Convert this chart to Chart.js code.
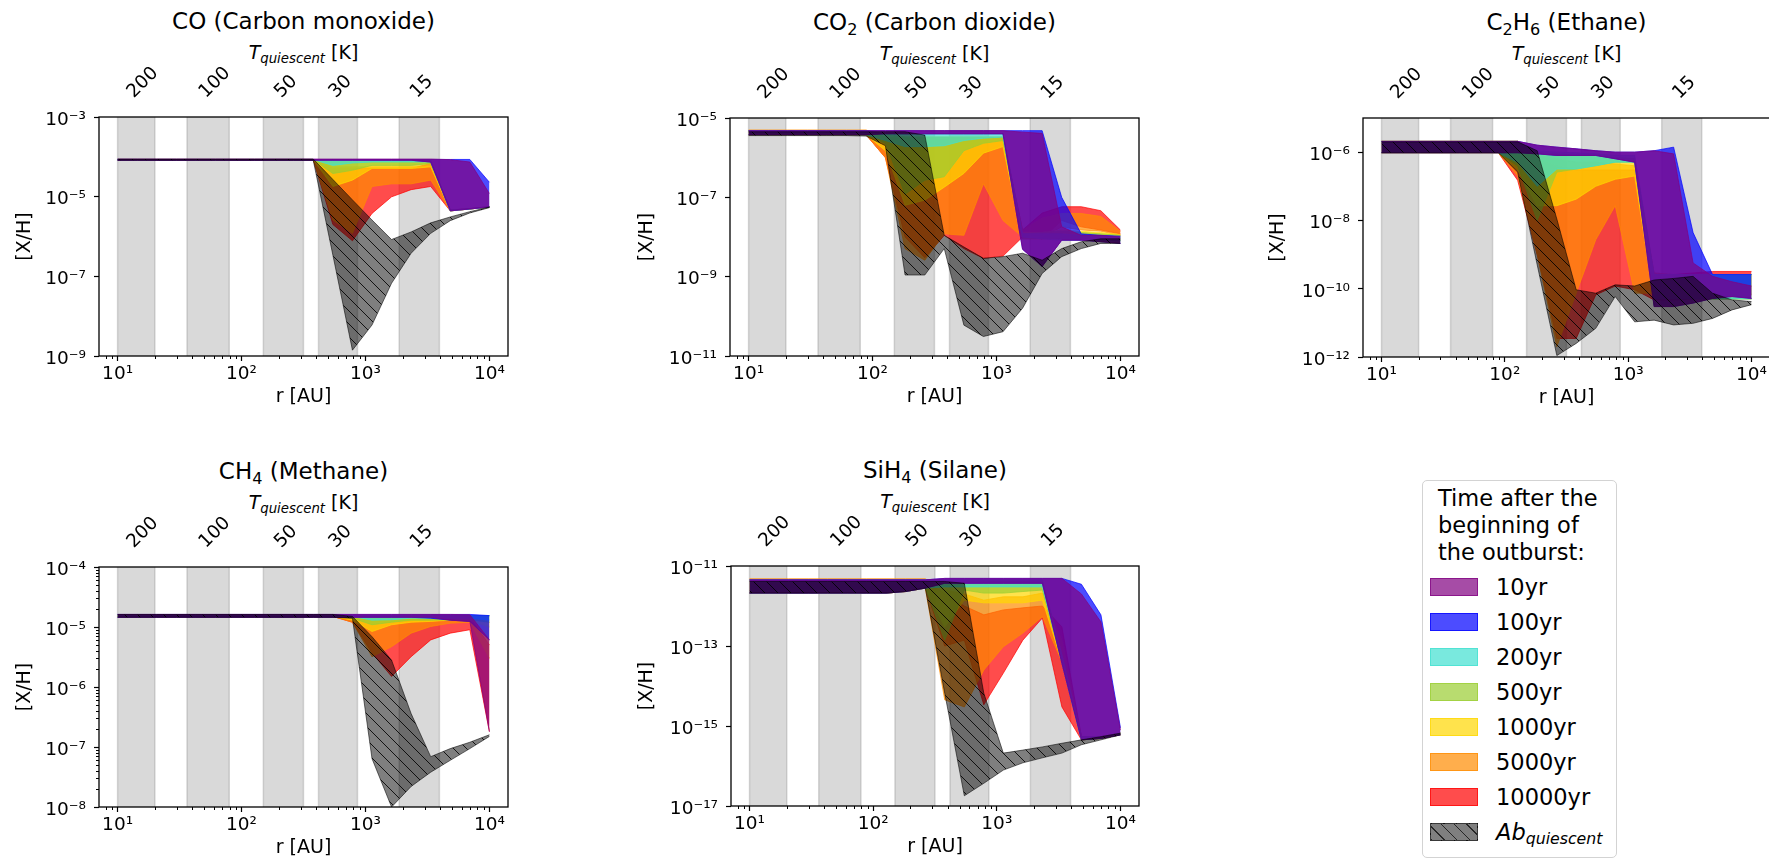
<!DOCTYPE html>
<html>
<head>
<meta charset="utf-8">
<script src="https://cdn.jsdelivr.net/npm/chart.js@4.4.0/dist/chart.umd.min.js"></script>
<style>
  html, body { margin: 0; padding: 0; background: #fff; width: 1769px; height: 868px; overflow: hidden; }
  body { position: relative; font-family: "DejaVu Sans", sans-serif; color: #000; }
  canvas { position: absolute; }
  .ttl { position: absolute; text-align: center; font-size: 23px; line-height: 28px; white-space: nowrap; }
  .tq { position: absolute; text-align: center; font-size: 19px; line-height: 24px; white-space: nowrap; }
  sub { font-size: 0.7em; vertical-align: -0.28em; line-height: 0; }
  #legend { position: absolute; left: 1422px; top: 480px; width: 195px; height: 378px; box-sizing: border-box;
            border: 1px solid #d3d3d3; border-radius: 5px; font-size: 22.5px; }
  #legend .head { position: absolute; left: 15px; top: 4px; line-height: 27px; white-space: nowrap; }
  #legend .row { position: absolute; left: 0; width: 190px; height: 27px; }
  #legend .sw { position: absolute; left: 7px; top: 4px; width: 46px; height: 16px; }
  #legend .lab { position: absolute; left: 73px; top: 0; line-height: 27px; white-space: nowrap; }
</style>
</head>
<body>
<div id="legend"></div>
<script>
// radial grid of the models [AU]
const radius = [10, 14.4, 20.7, 29.8, 42.8, 61.6, 88.6, 127, 183, 264, 379, 546, 785, 1129, 1624, 2336, 3360, 4833, 6952, 10000];

// temperature bands and top axis
const tempBands = [[10, 20], [36.3, 79.6], [150, 316], [418, 862], [1870, 3950]];
const topTickR = [14.1, 53.8, 218, 600, 2720];
const topTickLabels = ['200', '100', '50', '30', '15'];

const xMajorTicks = [10, 100, 1000, 10000];
const xMinorTicks = [8, 9, 20, 30, 40, 50, 60, 70, 80, 90, 200, 300, 400, 500, 600, 700, 800, 900,
                     2000, 3000, 4000, 5000, 6000, 7000, 8000, 9000];

const seriesNames = ['quiescent', '10yr', '100yr', '200yr', '500yr', '1000yr', '5000yr', '10000yr'];

// ---- CO
const co_q_hi = [8.8e-5,8.8e-5,8.8e-5,8.8e-5,8.8e-5,8.8e-5,8.8e-5,8.8e-5,8.8e-5,8.8e-5,8.8e-5,2.7e-5,8.3e-6,2.6e-6,8.4e-7,1.3e-6,2.2e-6,3.1e-6,4.2e-6,5.5e-6];
const co_q_lo = [8.2e-5,8.2e-5,8.2e-5,8.2e-5,8.2e-5,8.2e-5,8.2e-5,8.2e-5,8.2e-5,8.2e-5,8.2e-5,3.4e-7,1.4e-9,6e-9,6.7e-8,3.8e-7,1.2e-6,2.5e-6,3.9e-6,5.3e-6];
const co_10_hi = [8.8e-5,8.8e-5,8.8e-5,8.8e-5,8.8e-5,8.8e-5,8.8e-5,8.8e-5,8.8e-5,8.8e-5,8.8e-5,8.8e-5,8.8e-5,8.8e-5,8.8e-5,8.8e-5,8.8e-5,8.5e-5,7.4e-5,1.2e-5];
const co_10_lo = [8.2e-5,8.2e-5,8.2e-5,8.2e-5,8.2e-5,8.2e-5,8.2e-5,8.2e-5,8.2e-5,8.2e-5,8.2e-5,8.2e-5,8.2e-5,8.2e-5,8.2e-5,8.2e-5,7.4e-5,4.4e-6,4.9e-6,5.5e-6];
const co_100_hi = [8.6e-5,8.6e-5,8.6e-5,8.6e-5,8.6e-5,8.6e-5,8.6e-5,8.6e-5,8.6e-5,8.6e-5,8.6e-5,8.6e-5,8.6e-5,8.6e-5,8.6e-5,8.6e-5,8.6e-5,8.6e-5,8.6e-5,2.3e-5];
const co_100_lo = [8.2e-5,8.2e-5,8.2e-5,8.2e-5,8.2e-5,8.2e-5,8.2e-5,8.2e-5,8.2e-5,8.2e-5,8.2e-5,8.2e-5,8.2e-5,8.2e-5,8.2e-5,8.2e-5,7.4e-5,4.4e-6,4.9e-6,5.5e-6];
const co_200_hi = [8.5e-5,8.5e-5,8.5e-5,8.5e-5,8.5e-5,8.5e-5,8.5e-5,8.5e-5,8.5e-5,8.5e-5,8.5e-5,8.5e-5,8.5e-5,8.5e-5,8.5e-5,8.5e-5,8.5e-5,4.6e-6,5e-6,5.6e-6];
const co_200_lo = [8.5e-5,8.5e-5,8.5e-5,8.5e-5,8.5e-5,8.5e-5,8.5e-5,8.5e-5,8.5e-5,8.5e-5,8.5e-5,6.1e-5,7e-5,7.4e-5,7.4e-5,7.4e-5,7.4e-5,4.4e-6,4.9e-6,5.5e-6];
const co_500_hi = [8.5e-5,8.5e-5,8.5e-5,8.5e-5,8.5e-5,8.5e-5,8.5e-5,8.5e-5,8.5e-5,8.5e-5,8.5e-5,8e-5,8e-5,8e-5,8e-5,8e-5,8e-5,4.6e-6,5e-6,5.6e-6];
const co_500_lo = [8.5e-5,8.5e-5,8.5e-5,8.5e-5,8.5e-5,8.5e-5,8.5e-5,8.5e-5,8.5e-5,8.5e-5,8.5e-5,3.8e-5,4.6e-5,6.1e-5,6.1e-5,6.1e-5,6.8e-5,4.4e-6,4.9e-6,5.5e-6];
const co_1000_hi = [8.5e-5,8.5e-5,8.5e-5,8.5e-5,8.5e-5,8.5e-5,8.5e-5,8.5e-5,8.5e-5,8.5e-5,8.5e-5,7.4e-5,7.4e-5,7.4e-5,7.4e-5,7.4e-5,7.4e-5,4.6e-6,5e-6,5.6e-6];
const co_1000_lo = [8.5e-5,8.5e-5,8.5e-5,8.5e-5,8.5e-5,8.5e-5,8.5e-5,8.5e-5,8.5e-5,8.5e-5,8.5e-5,1.8e-5,2.6e-5,5.1e-5,5.1e-5,5.1e-5,5.6e-5,4.4e-6,4.9e-6,5.5e-6];
const co_5000_hi = [8.5e-5,8.5e-5,8.5e-5,8.5e-5,8.5e-5,8.5e-5,8.5e-5,8.5e-5,8.5e-5,8.5e-5,8.5e-5,5.6e-5,5.6e-5,5.6e-5,5.6e-5,5.6e-5,5.6e-5,4.6e-6,5e-6,5.6e-6];
const co_5000_lo = [8.5e-5,8.5e-5,8.5e-5,8.5e-5,8.5e-5,8.5e-5,8.5e-5,8.5e-5,8.5e-5,8.5e-5,8.5e-5,2.6e-6,1.2e-6,1.8e-5,2.1e-5,2.1e-5,2.6e-5,4.4e-6,4.9e-6,5.5e-6];
const co_10000_hi = [8.5e-5,8.5e-5,8.5e-5,8.5e-5,8.5e-5,8.5e-5,8.5e-5,8.5e-5,8.5e-5,8.5e-5,8.5e-5,5.1e-5,5.1e-5,5.1e-5,5.1e-5,5.1e-5,6.8e-5,4.6e-6,5e-6,5.6e-6];
const co_10000_lo = [8.5e-5,8.5e-5,8.5e-5,8.5e-5,8.5e-5,8.5e-5,8.5e-5,8.5e-5,8.5e-5,8.5e-5,8.5e-5,2e-6,7.8e-7,3.8e-6,9.9e-6,1.5e-5,1.8e-5,4.4e-6,4.9e-6,5.5e-6];

// ---- CO2
const co2_q_hi = [4.5e-6,4.5e-6,4.5e-6,4.5e-6,4.5e-6,4.5e-6,4.5e-6,4.5e-6,4.5e-6,3.7e-6,1.1e-8,5.6e-9,2.9e-9,3.2e-9,3.9e-9,2.6e-9,5.1e-9,7.6e-9,9e-9,9e-9];
const co2_q_lo = [3.6e-6,3.6e-6,3.6e-6,3.6e-6,3.6e-6,3.6e-6,3.5e-6,2e-6,1.1e-9,1.1e-9,5.1e-9,6e-11,3.1e-11,4.1e-11,1.6e-10,1.2e-9,3.2e-9,5.1e-9,6.9e-9,6.9e-9];
const co2_10_hi = [4.8e-6,4.8e-6,4.8e-6,4.8e-6,4.8e-6,4.8e-6,4.8e-6,4.8e-6,4.8e-6,4.8e-6,4.8e-6,4.8e-6,4.8e-6,4.8e-6,4.4e-6,4.1e-6,1.8e-8,1.1e-8,1.1e-8,1e-8];
const co2_10_lo = [3.8e-6,3.8e-6,3.8e-6,3.8e-6,3.8e-6,3.8e-6,3.8e-6,4e-6,4e-6,4e-6,4e-6,4e-6,4e-6,4e-6,4.9e-9,1.8e-9,8.3e-9,8.3e-9,7.6e-9,6.9e-9];
const co2_100_hi = [4.8e-6,4.8e-6,4.8e-6,4.8e-6,4.8e-6,4.8e-6,4.8e-6,4.8e-6,4.8e-6,4.8e-6,4.8e-6,4.8e-6,4.8e-6,4.8e-6,4.8e-6,4.8e-6,1e-7,1.2e-8,1.1e-8,1.05e-8];
const co2_100_lo = [3.8e-6,3.8e-6,3.8e-6,3.8e-6,3.8e-6,3.8e-6,3.8e-6,4e-6,4e-6,4e-6,4e-6,4e-6,4e-6,4e-6,4.9e-9,1.8e-9,8.3e-9,8.3e-9,7.6e-9,6.9e-9];
const co2_200_hi = [4.8e-6,4.8e-6,4.8e-6,4.8e-6,4.8e-6,4.8e-6,4.8e-6,4e-6,4e-6,4e-6,4e-6,4e-6,4e-6,4e-6,1.2e-8,1.2e-8,1.2e-8,1.1e-8,1.1e-8,1e-8];
const co2_200_lo = [3.8e-6,3.8e-6,3.8e-6,3.8e-6,3.8e-6,3.8e-6,3.8e-6,2.7e-6,1.9e-6,1.9e-6,2e-6,2.7e-6,3.1e-6,3.3e-6,1e-8,9e-9,8.3e-9,8.3e-9,8.3e-9,8e-9];
const co2_500_hi = [4.8e-6,4.8e-6,4.8e-6,4.8e-6,4.8e-6,4.8e-6,4.8e-6,3.9e-6,3.3e-6,3.3e-6,3.3e-6,3.3e-6,3.3e-6,3.3e-6,1.2e-8,1.3e-8,1.4e-8,1.3e-8,1.2e-8,1.1e-8];
const co2_500_lo = [3.8e-6,3.8e-6,3.8e-6,3.8e-6,3.8e-6,3.8e-6,3.8e-6,2.3e-6,1.2e-7,2.7e-7,3.3e-7,1.5e-6,2.3e-6,2.7e-6,9e-9,9e-9,9e-9,9e-9,8.5e-9,8e-9];
const co2_1000_hi = [4.8e-6,4.8e-6,4.8e-6,4.8e-6,4.8e-6,4.8e-6,4.8e-6,3.3e-6,3.3e-6,3.3e-6,3.3e-6,3.3e-6,3.3e-6,3.3e-6,1.3e-8,1.3e-8,1.5e-8,1.4e-8,1.3e-8,1.15e-8];
const co2_1000_lo = [3.8e-6,3.8e-6,3.8e-6,3.8e-6,3.8e-6,3.8e-6,3.8e-6,1.5e-6,6.3e-8,8.5e-8,1.8e-7,4e-7,1.3e-6,1.9e-6,9e-9,9e-9,9.5e-9,9.5e-9,9e-9,8.5e-9];
const co2_5000_hi = [5e-6,5e-6,5e-6,5e-6,5e-6,5e-6,5e-6,3.3e-6,3.3e-6,3.3e-6,3.3e-6,3.3e-6,3.3e-6,3.3e-6,1.5e-8,3e-8,3.9e-8,3.9e-8,3.3e-8,1.4e-8];
const co2_5000_lo = [3.8e-6,3.8e-6,3.8e-6,3.8e-6,3.8e-6,3.8e-6,3.8e-6,1e-6,5.1e-9,2.6e-9,1.2e-8,1.1e-8,2.2e-7,2.6e-8,1e-8,1e-8,1.8e-8,1.5e-8,1.4e-8,1.1e-8];
const co2_10000_hi = [4.8e-6,4.8e-6,4.8e-6,4.8e-6,4.8e-6,4.8e-6,4.8e-6,3e-6,3e-6,3e-6,3e-6,3e-6,3e-6,3e-6,1.5e-8,4e-8,5.8e-8,5.8e-8,4.6e-8,1.5e-8];
const co2_10000_lo = [3.8e-6,3.8e-6,3.8e-6,3.8e-6,3.8e-6,3.8e-6,3.8e-6,1e-6,1e-8,3e-9,1.1e-8,5.1e-9,2.9e-9,3.3e-9,1e-8,9e-9,2.6e-8,1.8e-8,1.5e-8,1.2e-8];

// ---- C2H6
const c2h6_q_hi = [2e-6,2e-6,2e-6,2e-6,2e-6,2e-6,2e-6,2e-6,1.1e-6,1.1e-8,9.3e-11,7.4e-11,1.3e-10,1.2e-10,1.8e-10,2e-10,2.3e-10,7.4e-11,4.7e-11,4.2e-11];
const c2h6_q_lo = [9.6e-7,9.6e-7,9.6e-7,9.6e-7,9.6e-7,9.6e-7,9.6e-7,2.6e-7,5e-10,1.1e-12,2.5e-12,6.9e-12,5.9e-11,1.07e-11,1.2e-11,8.7e-12,9.7e-12,1.35e-11,2.4e-11,3.4e-11];
const c2h6_10_hi = [2.07e-6,2.07e-6,2.07e-6,2.07e-6,2.07e-6,2.07e-6,2.07e-6,2.07e-6,1.6e-6,1.4e-6,1.25e-6,1.1e-6,1e-6,1e-6,1.1e-6,8.9e-7,5.7e-10,2.3e-10,1.6e-10,1.2e-10];
const c2h6_10_lo = [9.6e-7,9.6e-7,9.6e-7,9.6e-7,9.6e-7,9.6e-7,9.6e-7,9.6e-7,8.9e-7,8e-7,8e-7,8e-7,6.4e-7,5.1e-7,3e-11,3e-11,3.8e-11,5.2e-11,5.9e-11,5.2e-11];
const c2h6_100_hi = [2.07e-6,2.07e-6,2.07e-6,2.07e-6,2.07e-6,2.07e-6,2.07e-6,2.07e-6,1.6e-6,1.4e-6,1.25e-6,1.1e-6,1e-6,1e-6,1.1e-6,1.4e-6,4.4e-9,2.6e-10,2.6e-10,2.6e-10];
const c2h6_100_lo = [9.6e-7,9.6e-7,9.6e-7,9.6e-7,9.6e-7,9.6e-7,9.6e-7,9.6e-7,8.9e-7,8e-7,8e-7,8e-7,6.4e-7,5.1e-7,3e-11,3e-11,3.8e-11,5.2e-11,5.9e-11,5.2e-11];
const c2h6_200_hi = [2.07e-6,2.07e-6,2.07e-6,2.07e-6,2.07e-6,2.07e-6,2.07e-6,2.07e-6,1.1e-6,1e-6,9.6e-7,8.9e-7,8e-7,8e-7,2.6e-10,2.6e-10,2.6e-10,2.6e-10,2.6e-10,2.6e-10];
const c2h6_200_lo = [9.6e-7,9.6e-7,9.6e-7,9.6e-7,9.6e-7,9.6e-7,9.6e-7,5e-7,1e-7,3.2e-7,3.2e-7,4e-7,5.1e-7,5.1e-7,5e-11,5e-11,5e-11,5e-11,5e-11,5e-11];
const c2h6_500_hi = [2.07e-6,2.07e-6,2.07e-6,2.07e-6,2.07e-6,2.07e-6,2.07e-6,2.07e-6,9.6e-7,8.9e-7,8e-7,8e-7,7e-7,6.4e-7,2.6e-10,2.6e-10,2.6e-10,2.6e-10,2.6e-10,2.6e-10];
const c2h6_500_lo = [9.6e-7,9.6e-7,9.6e-7,9.6e-7,9.6e-7,9.6e-7,9.6e-7,4e-7,1e-8,2.6e-7,3.2e-7,4e-7,5.1e-7,5.1e-7,5e-11,5e-11,5e-11,5e-11,5e-11,5e-11];
const c2h6_1000_hi = [2.07e-6,2.07e-6,2.07e-6,2.07e-6,2.07e-6,2.07e-6,2.07e-6,2.07e-6,9.6e-7,8.9e-7,8e-7,8e-7,7e-7,6.4e-7,2.6e-10,2.6e-10,2.6e-10,2.6e-10,2.6e-10,2.6e-10];
const c2h6_1000_lo = [9.6e-7,9.6e-7,9.6e-7,9.6e-7,9.6e-7,9.6e-7,9.6e-7,3e-7,2.7e-8,2.7e-8,4.2e-8,1e-7,1.6e-7,2e-7,5e-11,5e-11,5e-11,5e-11,5e-11,5e-11];
const c2h6_5000_hi = [2.07e-6,2.07e-6,2.07e-6,2.07e-6,2.07e-6,2.07e-6,2.07e-6,2.07e-6,8e-7,6.4e-7,5.1e-7,5.1e-7,4.5e-7,4e-7,2.9e-10,2.6e-10,2.6e-10,2.6e-10,2.6e-10,2.6e-10];
const c2h6_5000_lo = [9.6e-7,9.6e-7,9.6e-7,9.6e-7,9.6e-7,9.6e-7,9.6e-7,2e-7,1e-9,2e-12,7.4e-11,2.7e-9,2.7e-8,7.4e-11,7.4e-11,7e-11,7e-11,7e-11,7e-11,7e-11];
const c2h6_10000_hi = [2.07e-6,2.07e-6,2.07e-6,2.07e-6,2.07e-6,2.07e-6,2.07e-6,2.07e-6,6e-7,4e-7,3e-7,3e-7,3e-7,3e-7,2.3e-10,2.6e-10,2.9e-10,3.2e-10,3.2e-10,3.2e-10];
const c2h6_10000_lo = [9.6e-7,9.6e-7,9.6e-7,9.6e-7,9.6e-7,9.6e-7,9.6e-7,1.5e-7,1e-9,3.5e-12,3.5e-12,6.6e-11,1.2e-10,9.3e-11,4.7e-11,4.7e-11,5e-11,6e-11,6.6e-11,6.6e-11];

// ---- CH4
const ch4_q_hi = [1.62e-5,1.62e-5,1.62e-5,1.62e-5,1.62e-5,1.62e-5,1.62e-5,1.62e-5,1.62e-5,1.62e-5,1.62e-5,1.62e-5,1.5e-5,6.9e-6,2.8e-6,3.6e-7,6.9e-8,9.4e-8,1.2e-7,1.6e-7];
const ch4_q_lo = [1.45e-5,1.45e-5,1.45e-5,1.45e-5,1.45e-5,1.45e-5,1.45e-5,1.45e-5,1.45e-5,1.45e-5,1.45e-5,1.45e-5,1.4e-5,6.4e-8,1e-8,2.2e-8,3.8e-8,6e-8,9.4e-8,1.5e-7];
const ch4_10_hi = [1.62e-5,1.62e-5,1.62e-5,1.62e-5,1.62e-5,1.62e-5,1.62e-5,1.62e-5,1.62e-5,1.62e-5,1.62e-5,1.62e-5,1.62e-5,1.62e-5,1.62e-5,1.62e-5,1.62e-5,1.62e-5,1.6e-5,6.1e-6];
const ch4_10_lo = [1.45e-5,1.45e-5,1.45e-5,1.45e-5,1.45e-5,1.45e-5,1.45e-5,1.45e-5,1.45e-5,1.45e-5,1.45e-5,1.45e-5,1.45e-5,1.45e-5,1.45e-5,1.45e-5,1.45e-5,1.3e-5,1.24e-5,1.8e-7];
const ch4_100_hi = [1.62e-5,1.62e-5,1.62e-5,1.62e-5,1.62e-5,1.62e-5,1.62e-5,1.62e-5,1.62e-5,1.62e-5,1.62e-5,1.62e-5,1.62e-5,1.62e-5,1.62e-5,1.62e-5,1.62e-5,1.62e-5,1.62e-5,1.55e-5];
const ch4_100_lo = [1.45e-5,1.45e-5,1.45e-5,1.45e-5,1.45e-5,1.45e-5,1.45e-5,1.45e-5,1.45e-5,1.45e-5,1.45e-5,1.45e-5,1.45e-5,1.45e-5,1.45e-5,1.45e-5,1.4e-5,1.3e-5,1.24e-5,6.1e-6];
const ch4_200_hi = [1.55e-5,1.55e-5,1.55e-5,1.55e-5,1.55e-5,1.55e-5,1.55e-5,1.55e-5,1.55e-5,1.55e-5,1.55e-5,1.55e-5,1.55e-5,1.55e-5,1.55e-5,1.55e-5,1.55e-5,1.55e-5,1.55e-5,1.55e-5];
const ch4_200_lo = [1.5e-5,1.5e-5,1.5e-5,1.5e-5,1.5e-5,1.5e-5,1.5e-5,1.5e-5,1.5e-5,1.5e-5,1.5e-5,1.5e-5,1.5e-5,1.3e-5,1.32e-5,1.4e-5,1.4e-5,1.4e-5,1.4e-5,1.3e-5];
const ch4_500_hi = [1.55e-5,1.55e-5,1.55e-5,1.55e-5,1.55e-5,1.55e-5,1.55e-5,1.55e-5,1.55e-5,1.55e-5,1.55e-5,1.55e-5,1.55e-5,1.55e-5,1.55e-5,1.55e-5,1.55e-5,1.55e-5,1.55e-5,1.55e-5];
const ch4_500_lo = [1.5e-5,1.5e-5,1.5e-5,1.5e-5,1.5e-5,1.5e-5,1.5e-5,1.5e-5,1.5e-5,1.5e-5,1.5e-5,1.5e-5,1.4e-5,1.09e-5,1.2e-5,1.3e-5,1.3e-5,1.32e-5,1.32e-5,1.2e-5];
const ch4_1000_hi = [1.55e-5,1.55e-5,1.55e-5,1.55e-5,1.55e-5,1.55e-5,1.55e-5,1.55e-5,1.55e-5,1.55e-5,1.55e-5,1.55e-5,1.5e-5,1.5e-5,1.5e-5,1.5e-5,1.5e-5,1.5e-5,1.5e-5,1.5e-5];
const ch4_1000_lo = [1.5e-5,1.5e-5,1.5e-5,1.5e-5,1.5e-5,1.5e-5,1.5e-5,1.5e-5,1.5e-5,1.5e-5,1.5e-5,1.5e-5,1.3e-5,8.4e-6,1.09e-5,1.2e-5,1.24e-5,1.3e-5,1.3e-5,1e-5];
const ch4_5000_hi = [1.55e-5,1.55e-5,1.55e-5,1.55e-5,1.55e-5,1.55e-5,1.55e-5,1.55e-5,1.55e-5,1.55e-5,1.55e-5,1.55e-5,1.5e-5,1.5e-5,1.5e-5,1.5e-5,1.5e-5,1.5e-5,1.5e-5,1.2e-5];
const ch4_5000_lo = [1.5e-5,1.5e-5,1.5e-5,1.5e-5,1.5e-5,1.5e-5,1.5e-5,1.5e-5,1.5e-5,1.5e-5,1.5e-5,1.5e-5,1.2e-5,3.2e-6,4.7e-6,7.9e-6,1.02e-5,1.16e-5,1.2e-5,3e-6];
const ch4_10000_hi = [1.55e-5,1.55e-5,1.55e-5,1.55e-5,1.55e-5,1.55e-5,1.55e-5,1.55e-5,1.55e-5,1.55e-5,1.55e-5,1.55e-5,1.45e-5,1.45e-5,1.45e-5,1.45e-5,1.45e-5,1.45e-5,1.45e-5,5e-6];
const ch4_10000_lo = [1.5e-5,1.5e-5,1.5e-5,1.5e-5,1.5e-5,1.5e-5,1.5e-5,1.5e-5,1.5e-5,1.5e-5,1.5e-5,1.5e-5,1.2e-5,3.7e-6,1.5e-6,3.2e-6,6.1e-6,7.9e-6,9e-6,1.8e-7];

// ---- SiH4
const sih4_q_hi = [4.1e-12,4.1e-12,4.1e-12,4.1e-12,4.1e-12,4.1e-12,4.1e-12,4.1e-12,4.1e-12,4.1e-12,4.1e-12,3.7e-12,6.6e-15,2.1e-16,2.5e-16,3e-16,3.7e-16,4.5e-16,5.4e-16,6.6e-16];
const sih4_q_lo = [2.1e-12,2.1e-12,2.1e-12,2.1e-12,2.1e-12,2.1e-12,2.1e-12,2.1e-12,2.3e-12,2.8e-12,6.6e-15,1.8e-17,3.7e-17,7.9e-17,1.2e-16,1.6e-16,2.1e-16,3.4e-16,4.5e-16,6e-16];
const sih4_10_hi = [4.5e-12,4.5e-12,4.5e-12,4.5e-12,4.5e-12,4.5e-12,4.5e-12,4.5e-12,4.5e-12,4.5e-12,4.9e-12,4.9e-12,4.9e-12,4.9e-12,4.9e-12,4.9e-12,4.9e-12,2e-12,4e-13,7.9e-16];
const sih4_10_lo = [2.1e-12,2.1e-12,2.1e-12,2.1e-12,2.1e-12,2.1e-12,2.1e-12,2.1e-12,2.3e-12,2.8e-12,3.7e-12,3.7e-12,3.7e-12,3.7e-12,3.7e-12,3.7e-12,3.7e-14,4.5e-16,4.9e-16,6e-16];
const sih4_100_hi = [4.5e-12,4.5e-12,4.5e-12,4.5e-12,4.5e-12,4.5e-12,4.5e-12,4.5e-12,4.5e-12,4.5e-12,4.9e-12,4.9e-12,4.9e-12,4.9e-12,4.9e-12,4.9e-12,4.9e-12,3.5e-12,6e-13,9e-16];
const sih4_100_lo = [2.1e-12,2.1e-12,2.1e-12,2.1e-12,2.1e-12,2.1e-12,2.1e-12,2.1e-12,2.3e-12,2.8e-12,3.7e-12,3.7e-12,3.7e-12,3.7e-12,3.7e-12,3.7e-12,3.7e-14,4.5e-16,4.9e-16,6e-16];
const sih4_200_hi = [4.5e-12,4.5e-12,4.5e-12,4.5e-12,4.5e-12,4.5e-12,4.5e-12,4.5e-12,4.5e-12,4.5e-12,4.5e-12,4.5e-12,4.5e-12,4.5e-12,4.5e-12,4.5e-12,6e-14,5.4e-16,5.4e-16,6.6e-16];
const sih4_200_lo = [2.1e-12,2.1e-12,2.1e-12,2.1e-12,2.1e-12,2.1e-12,2.1e-12,2.1e-12,2.3e-12,2.8e-12,3e-12,3e-12,3e-12,3e-12,3e-12,3e-12,4e-14,4.5e-16,4.9e-16,6e-16];
const sih4_500_hi = [4.5e-12,4.5e-12,4.5e-12,4.5e-12,4.5e-12,4.5e-12,4.5e-12,4.5e-12,4.5e-12,4.5e-12,4.1e-12,4.1e-12,4.1e-12,4.1e-12,4.1e-12,4.1e-12,6e-14,5.4e-16,5.4e-16,6.6e-16];
const sih4_500_lo = [2.1e-12,2.1e-12,2.1e-12,2.1e-12,2.1e-12,2.1e-12,2.1e-12,2.1e-12,2.3e-12,2.8e-12,1.4e-13,2.5e-12,2.1e-12,2.1e-12,2.3e-12,2.5e-12,4e-14,4.5e-16,4.9e-16,6e-16];
const sih4_1000_hi = [4.5e-12,4.5e-12,4.5e-12,4.5e-12,4.5e-12,4.5e-12,4.5e-12,4.5e-12,4.5e-12,4.5e-12,3.5e-12,3.5e-12,3.5e-12,3.5e-12,3.5e-12,3.5e-12,6e-14,5.4e-16,5.4e-16,6.6e-16];
const sih4_1000_lo = [2.1e-12,2.1e-12,2.1e-12,2.1e-12,2.1e-12,2.1e-12,2.1e-12,2.1e-12,2.3e-12,2.8e-12,3e-13,1.4e-12,1.2e-12,1.2e-12,1.2e-12,1.4e-12,4e-14,4.5e-16,4.9e-16,6e-16];
const sih4_5000_hi = [4.8e-12,4.8e-12,4.8e-12,4.8e-12,4.8e-12,4.8e-12,4.8e-12,4.8e-12,4.8e-12,4.8e-12,2.5e-12,2e-12,1.4e-12,1.7e-12,1.7e-12,2.1e-12,1.4e-13,5.4e-16,5.4e-16,6.6e-16];
const sih4_5000_lo = [2.1e-12,2.1e-12,2.1e-12,2.1e-12,2.1e-12,2.1e-12,2.1e-12,2.1e-12,2.3e-12,2.8e-12,4.5e-15,3e-15,2.5e-14,9.6e-14,2.1e-13,5.4e-13,4e-14,4.5e-16,4.9e-16,6e-16];
const sih4_10000_hi = [4.5e-12,4.5e-12,4.5e-12,4.5e-12,4.5e-12,4.5e-12,4.5e-12,4.5e-12,4.5e-12,4.5e-12,2e-12,1e-12,6e-13,8e-13,9e-13,1e-12,3e-13,5.4e-16,5.4e-16,6.6e-16];
const sih4_10000_lo = [2.1e-12,2.1e-12,2.1e-12,2.1e-12,2.1e-12,2.1e-12,2.1e-12,2.1e-12,2.3e-12,2.8e-12,1e-13,1.4e-13,3.4e-15,2.1e-14,1.4e-13,5e-13,3e-15,4.5e-16,4.9e-16,6e-16];

// ---- styles
const FONT = 'DejaVu Sans';
Chart.defaults.font.family = FONT;
Chart.defaults.color = '#000';

const fillColors = [null, 'rgba(128,0,128,0.7)', 'rgba(0,0,255,0.7)', 'rgba(64,224,208,0.7)',
  'rgba(154,205,50,0.7)', 'rgba(255,215,0,0.7)', 'rgba(255,140,0,0.7)', 'rgba(255,0,0,0.7)'];
const edgeColors = ['rgba(0,0,0,0.55)', 'rgba(128,0,128,0.7)', 'rgba(0,0,255,0.7)', 'rgba(64,224,208,0.7)',
  'rgba(154,205,50,0.7)', 'rgba(255,215,0,0.7)', 'rgba(255,140,0,0.7)', 'rgba(255,0,0,0.7)'];

function makeHatch() {
  const c = document.createElement('canvas');
  c.width = 13; c.height = 13;
  const g = c.getContext('2d');
  g.fillStyle = 'rgba(0,0,0,0.5)';
  g.fillRect(0, 0, 13, 13);
  g.strokeStyle = 'rgba(0,0,0,0.85)';
  g.lineWidth = 1;
  g.beginPath();
  g.moveTo(-1, -1); g.lineTo(14, 14);
  g.moveTo(-1, 12); g.lineTo(1, 14);
  g.moveTo(12, -1); g.lineTo(14, 1);
  g.stroke();
  return g.createPattern(c, 'repeat');
}
const hatch = makeHatch();

const SUP = {'-': '\u207B', '0': '\u2070', '1': '\u00B9', '2': '\u00B2', '3': '\u00B3', '4': '\u2074',
             '5': '\u2075', '6': '\u2076', '7': '\u2077', '8': '\u2078', '9': '\u2079'};
function powLabel(v) {
  const e = String(Math.round(Math.log10(v)));
  return '10' + e.split('').map(ch => SUP[ch]).join('');
}

const X_MIN = 7.08, X_MAX = 14125;

const deco = {
  id: 'deco',
  beforeDatasetsDraw(chart) {
    const {ctx, chartArea: a, scales: {x}} = chart;
    ctx.save();
    ctx.fillStyle = 'rgba(128,128,128,0.3)';
    ctx.strokeStyle = 'rgba(128,128,128,0.3)';
    ctx.lineWidth = 1.5;
    tempBands.forEach(([lo, hi]) => {
      const x0 = x.getPixelForValue(lo), x1 = x.getPixelForValue(hi);
      ctx.fillRect(x0, a.top, x1 - x0, a.bottom - a.top);
      ctx.beginPath();
      ctx.moveTo(x0, a.top); ctx.lineTo(x0, a.bottom);
      ctx.moveTo(x1, a.top); ctx.lineTo(x1, a.bottom);
      ctx.stroke();
    });
    ctx.restore();
  },
  afterDatasetsDraw(chart) {
    const {ctx, chartArea: a, scales: {x, y}} = chart;
    const yMinor = chart.options.plugins.deco.yMinor || [];
    ctx.save();
    ctx.strokeStyle = '#000';
    ctx.lineWidth = 1;
    ctx.beginPath();
    xMinorTicks.forEach(v => {
      const px = Math.round(x.getPixelForValue(v)) + 0.5;
      ctx.moveTo(px, a.bottom); ctx.lineTo(px, a.bottom + 3);
    });
    yMinor.forEach(v => {
      const py = Math.round(y.getPixelForValue(v)) + 0.5;
      ctx.moveTo(a.left - 3, py); ctx.lineTo(a.left, py);
    });
    ctx.stroke();
    ctx.lineWidth = 1.3;
    ctx.strokeRect(a.left, a.top, a.right - a.left, a.bottom - a.top);
    ctx.restore();
  }
};

function buildPlot(cfg) {
  const Wy = cfg.plotLeft - cfg.canvasLeft;
  const Htop = 50, Hb = 56, padR = 30;
  const cv = document.createElement('canvas');
  cv.width = Wy + cfg.plotW + padR;
  cv.height = Htop + cfg.plotH + Hb;
  cv.style.left = cfg.canvasLeft + 'px';
  cv.style.top = (cfg.plotTop - Htop) + 'px';
  document.body.appendChild(cv);

  const datasets = [];
  cfg.bands.forEach((b, k) => {
    datasets.push({
      label: seriesNames[k] + ' min',
      data: radius.map((r, i) => ({x: r, y: b[0][i]})),
      borderColor: edgeColors[k], borderWidth: 1, pointRadius: 0, tension: 0, fill: false
    });
    datasets.push({
      label: seriesNames[k],
      data: radius.map((r, i) => ({x: r, y: b[1][i]})),
      borderColor: edgeColors[k], borderWidth: 1, pointRadius: 0, tension: 0,
      backgroundColor: k === 0 ? hatch : fillColors[k], fill: '-1'
    });
  });

  new Chart(cv, {
    type: 'line',
    data: {datasets},
    plugins: [deco],
    options: {
      responsive: false, animation: false, events: [],
      layout: {padding: {left: 0, right: padR, top: 0, bottom: 0}},
      plugins: {legend: {display: false}, tooltip: {enabled: false}, deco: {yMinor: cfg.yMinor}},
      scales: {
        x: {
          type: 'logarithmic', position: 'bottom', min: X_MIN, max: X_MAX,
          afterBuildTicks: s => { s.ticks = xMajorTicks.map(v => ({value: v})); },
          afterFit: s => { s.height = Hb; },
          ticks: {callback: v => powLabel(v), font: {size: 18.5}, color: '#000', padding: 2,
                  maxRotation: 0, autoSkip: false},
          grid: {drawOnChartArea: false, drawTicks: true, tickLength: 5, tickColor: '#000', tickWidth: 1.2},
          border: {display: false},
          title: {display: true, text: 'r [AU]', font: {size: 19}, color: '#000', padding: {top: 0, bottom: 4}}
        },
        x2: {
          type: 'logarithmic', position: 'top', min: X_MIN, max: X_MAX,
          afterBuildTicks: s => { s.ticks = topTickR.map(v => ({value: v})); },
          afterFit: s => { s.height = Htop; },
          ticks: {callback: (v, i) => topTickLabels[i], font: {size: 18.5}, color: '#000',
                  minRotation: 45, maxRotation: 45, autoSkip: false, padding: 14, labelOffset: 10},
          grid: {display: false, drawTicks: false},
          border: {display: false}
        },
        y: {
          type: 'logarithmic', position: 'left', min: cfg.yMin, max: cfg.yMax,
          afterBuildTicks: s => { s.ticks = cfg.yTicks.map(v => ({value: v})); },
          afterFit: s => { s.width = Wy; },
          ticks: {callback: v => powLabel(v), font: {size: 18.5}, color: '#000', padding: 8,
                  labelOffset: 3, autoSkip: false},
          grid: {drawOnChartArea: false, drawTicks: true, tickLength: 5, tickColor: '#000', tickWidth: 1.2},
          border: {display: false},
          title: {display: true, text: '[X/H]', font: {size: 19}, color: '#000', padding: {top: 0, bottom: 0}}
        }
      }
    }
  });

  const t = document.createElement('div');
  t.className = 'ttl';
  t.style.left = cfg.plotLeft + 'px';
  t.style.width = cfg.plotW + 'px';
  t.style.top = (cfg.plotTop - 96 - 14) + 'px';
  t.innerHTML = cfg.title;
  document.body.appendChild(t);

  const q = document.createElement('div');
  q.className = 'tq';
  q.style.left = cfg.plotLeft + 'px';
  q.style.width = cfg.plotW + 'px';
  q.style.top = (cfg.plotTop - 65 - 12) + 'px';
  q.innerHTML = '<i>T</i><sub><i>quiescent</i></sub> [K]';
  document.body.appendChild(q);
}

buildPlot({
  title: 'CO (Carbon monoxide)', plotLeft: 99, plotTop: 117, plotW: 409, plotH: 239, canvasLeft: 14,
  yMin: 1e-9, yMax: 1e-3, yTicks: [1e-9, 1e-7, 1e-5, 1e-3],
  bands: [[co_q_lo, co_q_hi], [co_10_lo, co_10_hi], [co_100_lo, co_100_hi], [co_200_lo, co_200_hi],
          [co_500_lo, co_500_hi], [co_1000_lo, co_1000_hi], [co_5000_lo, co_5000_hi], [co_10000_lo, co_10000_hi]]
});
buildPlot({
  title: 'CO<sub>2</sub> (Carbon dioxide)', plotLeft: 730, plotTop: 118, plotW: 409, plotH: 238, canvasLeft: 636,
  yMin: 1e-11, yMax: 1e-5, yTicks: [1e-11, 1e-9, 1e-7, 1e-5],
  bands: [[co2_q_lo, co2_q_hi], [co2_10_lo, co2_10_hi], [co2_100_lo, co2_100_hi], [co2_200_lo, co2_200_hi],
          [co2_500_lo, co2_500_hi], [co2_1000_lo, co2_1000_hi], [co2_5000_lo, co2_5000_hi], [co2_10000_lo, co2_10000_hi]]
});
buildPlot({
  title: 'C<sub>2</sub>H<sub>6</sub> (Ethane)', plotLeft: 1363, plotTop: 118, plotW: 407, plotH: 239, canvasLeft: 1267,
  yMin: 1e-12, yMax: 1e-5, yTicks: [1e-12, 1e-10, 1e-8, 1e-6],
  bands: [[c2h6_q_lo, c2h6_q_hi], [c2h6_10_lo, c2h6_10_hi], [c2h6_100_lo, c2h6_100_hi], [c2h6_200_lo, c2h6_200_hi],
          [c2h6_500_lo, c2h6_500_hi], [c2h6_1000_lo, c2h6_1000_hi], [c2h6_5000_lo, c2h6_5000_hi], [c2h6_10000_lo, c2h6_10000_hi]]
});
buildPlot({
  title: 'CH<sub>4</sub> (Methane)', plotLeft: 99, plotTop: 567, plotW: 409, plotH: 240, canvasLeft: 14,
  yMin: 1e-8, yMax: 1e-4, yTicks: [1e-8, 1e-7, 1e-6, 1e-5, 1e-4],
  yMinor: [2e-8, 3e-8, 4e-8, 5e-8, 6e-8, 7e-8, 8e-8, 9e-8, 2e-7, 3e-7, 4e-7, 5e-7, 6e-7, 7e-7, 8e-7, 9e-7,
           2e-6, 3e-6, 4e-6, 5e-6, 6e-6, 7e-6, 8e-6, 9e-6, 2e-5, 3e-5, 4e-5, 5e-5, 6e-5, 7e-5, 8e-5, 9e-5],
  bands: [[ch4_q_lo, ch4_q_hi], [ch4_10_lo, ch4_10_hi], [ch4_100_lo, ch4_100_hi], [ch4_200_lo, ch4_200_hi],
          [ch4_500_lo, ch4_500_hi], [ch4_1000_lo, ch4_1000_hi], [ch4_5000_lo, ch4_5000_hi], [ch4_10000_lo, ch4_10000_hi]]
});
buildPlot({
  title: 'SiH<sub>4</sub> (Silane)', plotLeft: 731, plotTop: 566, plotW: 408, plotH: 240, canvasLeft: 636,
  yMin: 1e-17, yMax: 1e-11, yTicks: [1e-17, 1e-15, 1e-13, 1e-11],
  bands: [[sih4_q_lo, sih4_q_hi], [sih4_10_lo, sih4_10_hi], [sih4_100_lo, sih4_100_hi], [sih4_200_lo, sih4_200_hi],
          [sih4_500_lo, sih4_500_hi], [sih4_1000_lo, sih4_1000_hi], [sih4_5000_lo, sih4_5000_hi], [sih4_10000_lo, sih4_10000_hi]]
});

// legend
const legend = document.getElementById('legend');
legend.innerHTML = '<div class="head">Time after the<br>beginning of<br>the outburst:</div>';
const legendOrder = [1, 2, 3, 4, 5, 6, 7, 0];
legendOrder.forEach((k, row) => {
  const r = document.createElement('div');
  r.className = 'row';
  r.style.top = (107 + 35 * row - 13.5 - 1) + 'px';
  const sw = document.createElement('div');
  sw.className = 'sw';
  if (k === 0) {
    sw.style.background = 'repeating-linear-gradient(45deg, rgba(0,0,0,0.85) 0px, rgba(0,0,0,0.85) 1px, rgba(0,0,0,0.5) 1px, rgba(0,0,0,0.5) 9px)';
    sw.style.border = '1px solid rgba(0,0,0,0.55)';
  } else {
    sw.style.background = fillColors[k];
    sw.style.border = '1px solid ' + edgeColors[k];
  }
  const lab = document.createElement('div');
  lab.className = 'lab';
  lab.innerHTML = k === 0 ? '<i>Ab</i><sub><i>quiescent</i></sub>' : seriesNames[k];
  r.appendChild(sw); r.appendChild(lab);
  legend.appendChild(r);
});
</script>
</body>
</html>
